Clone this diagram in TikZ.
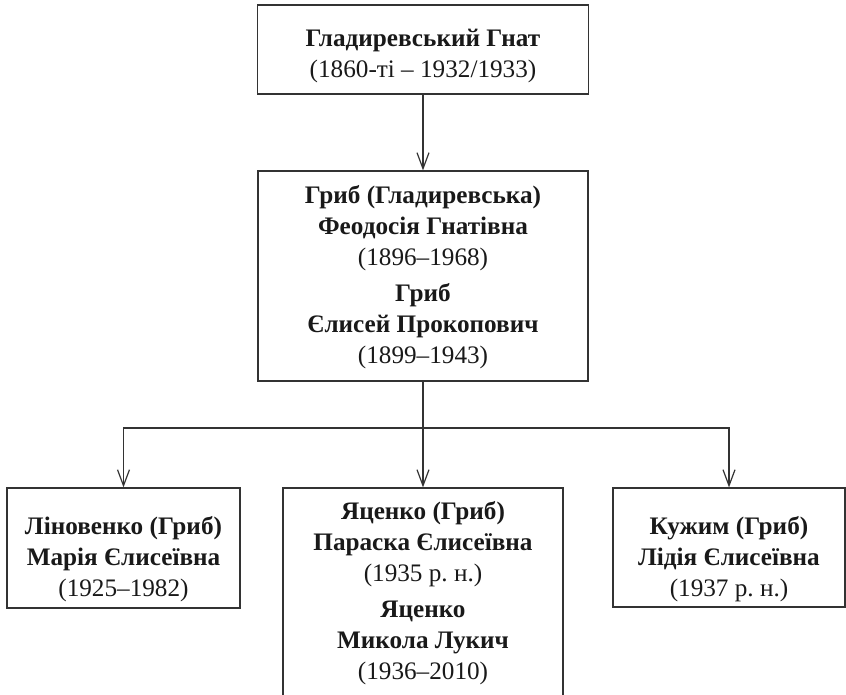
\documentclass[tikz,border=0pt]{standalone}
\usepackage{fontspec}
\setmainfont{Liberation Serif}
\usetikzlibrary{arrows.meta}
\frenchspacing

\begin{document}
\begin{tikzpicture}[x=0.5pt, y=-0.5pt, >={Straight Barb[length=8pt,width=6pt]}, line width=0.6pt,
  box/.style={draw=black!80, rectangle, inner sep=0pt},
  txt/.style={align=center, inner sep=0pt, font=\fontsize{12.6pt}{15.5pt}\selectfont, text=black!90}]
  \path[use as bounding box, clip] (0,0) rectangle (846,695);
  % frames
  \node[box, minimum width=165.5pt, minimum height=44.5pt] (gnat) at (423,49.5) {};
  \node[box, minimum width=165pt, minimum height=105pt] (feodosiia) at (423,276) {};
  \node[box, minimum width=116.5pt, minimum height=60pt] (mariia) at (123.5,548) {};
  \node[box, minimum width=140pt, minimum height=112pt] (paraska) at (423,600) {};
  \node[box, minimum width=116pt, minimum height=59.5pt] (lidiia) at (729,547.5) {};
  % names
  \node[txt] (gnat-t) at (423,56) {\textbf{Гладиревський Гнат}\\(1860-ті – 1932/1933)};
  \node[txt] (feodosiia-t) at (423,277) {\textbf{Гриб (Гладиревська)}\\\textbf{Феодосія Гнатівна}\\(1896–1968)\\[2.5pt]
    \textbf{Гриб}\\\textbf{Єлисей Прокопович}\\(1899–1943)};
  \node[txt] (mariia-t) at (123.5,559) {\textbf{Ліновенко (Гриб)}\\\textbf{Марія Єлисеївна}\\(1925–1982)};
  \node[txt] (paraska-t) at (423,593) {\textbf{Яценко (Гриб)}\\\textbf{Параска Єлисеївна}\\(1935 р. н.)\\[2.5pt]
    \textbf{Яценко}\\\textbf{Микола Лукич}\\(1936–2010)};
  \node[txt] (lidiia-t) at (729,559) {\textbf{Кужим (Гриб)}\\\textbf{Лідія Єлисеївна}\\(1937 р. н.)};
  % links
  \coordinate (split) at (423,428);
  \draw[->, black!80] (gnat.south) -- (feodosiia.north);
  \draw[black!80] (feodosiia.south) -- (split);
  \draw[->, black!80] (split) -| (mariia.north);
  \draw[->, black!80] (split) -- (paraska.north);
  \draw[->, black!80] (split) -| (lidiia.north);
\end{tikzpicture}
\end{document}
